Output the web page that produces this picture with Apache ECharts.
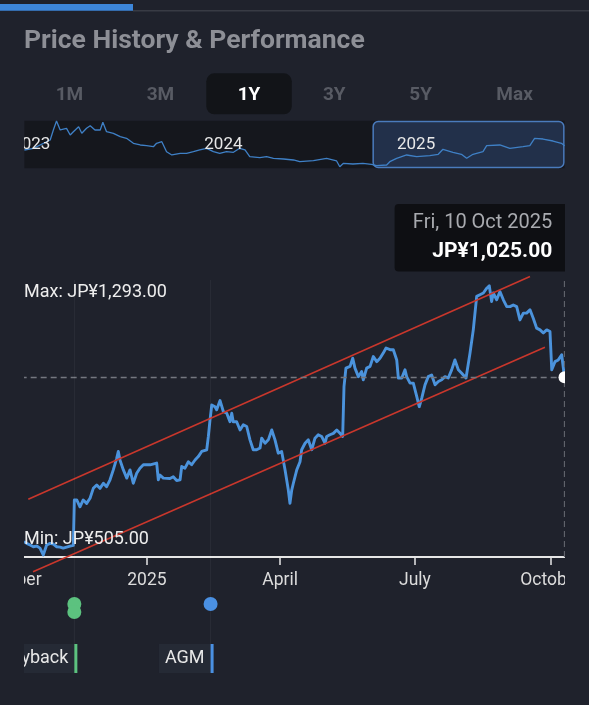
<!DOCTYPE html>
<html><head><meta charset="utf-8">
<script src="https://cdn.jsdelivr.net/npm/echarts@6/dist/echarts.min.js"></script>
<style>
html,body{margin:0;padding:0;background:#1f222c;}
#page{position:relative;width:589px;height:705px;overflow:hidden;background:#1f222c;}
#header{position:absolute;left:0;top:0;width:589px;height:705px;}
#clip{position:absolute;left:24px;top:0;width:541px;height:705px;overflow:hidden;}
#chart{position:absolute;left:-24px;top:0;width:620px;height:705px;}
</style></head>
<body><div id="page"><div id="header"></div><div id="clip"><div id="chart"></div></div></div>
<script>
// ---------------- data ----------------
const titleText = 'Price History & Performance';
const rangeButtons = ['1M', '3M', '1Y', '3Y', '5Y', 'Max'];
const selectedRange = '1Y';
const currency = 'JP¥';

// 1Y price history: days since 10 Oct 2024 and closing price (JPY)
const startDate = '2024-10-10';
const dayOffset = [0,1.8,4.1,6.3,8.6,10.8,13.0,15.3,17.6,19.8,22.1,24.3,26.5,28.8,31.1,33.3,34.0,35.6,37.8,40.0,
  42.3,44.6,46.8,49.1,51.3,53.6,55.8,58.1,60.3,62.6,63.7,64.8,67.1,69.4,71.6,73.8,76.1,78.3,80.6,85.1,
  89.6,90.7,91.8,94.1,98.6,100.8,103.1,105.4,106.5,108.7,111.0,113.2,115.5,117.7,120.0,123.4,124.5,125.6,126.8,129.0,
  130.1,132.4,134.6,136.9,139.1,140.3,141.3,143.6,145.9,148.1,150.4,152.6,154.8,157.1,159.4,160.5,162.8,165.0,167.3,169.5,
  171.7,174.0,176.3,178.5,179.6,180.8,181.9,184.2,186.4,187.5,189.8,192.0,194.3,196.5,198.7,201.0,203.3,204.4,206.6,208.9,
  211.2,213.4,215.2,216.1,217.4,220.2,222.0,223.5,225.8,228.0,229.1,231.4,233.7,235.9,238.2,240.4,242.6,244.5,247.2,249.4,
  251.7,252.8,255.1,257.3,258.4,260.7,262.9,265.2,266.9,268.6,270.8,273.0,275.3,277.6,279.8,282.1,284.3,286.5,288.8,291.0,
  293.3,295.6,298.5,301.2,303.4,305.7,307.9,310.2,312.5,314.2,315.8,316.9,319.2,321.4,323.7,326.0,328.2,330.4,332.7,334.9,
  337.2,339.4,341.7,343.9,346.2,348.5,350.7,353.0,355.2,356.4,358.6,360.8,363.1,365];
const price = [544,539,534,529,531,525,505,534,539,537,529,528,525,528,531,533,666,666,646,666,
  656,671,700,710,700,715,705,725,754,788,808,783,754,730,754,715,744,759,769,769,
  774,725,739,730,729,734,723,725,764,759,778,769,783,793,808,813,852,900,944,939,
  930,957,925,920,895,920,895,895,871,886,881,842,813,813,818,847,832,842,871,842,
  803,808,754,695,656,695,715,754,778,813,832,842,813,847,857,852,832,852,857,861,
  871,861,852,998,1052,1057,1081,1052,1027,1042,1018,1052,1057,1086,1071,1081,1096,1111,1106,1106,
  1076,1023,1023,1047,1027,1008,1008,969,939,964,1003,1027,1032,1003,1013,1018,1027,1023,1047,1076,
  1047,1037,1023,1096,1164,1262,1267,1272,1286,1293,1247,1272,1252,1276,1252,1232,1232,1237,1232,1193,
  1213,1213,1223,1198,1169,1164,1155,1164,1159,1047,1071,1076,1091,1025];

// trend channel (days since start, price)
const channelUpperDays = [2.9, 341.7];
const channelUpperPrice = [668, 1320];
const channelLowerDays = [6.1, 351.8];
const channelLowerPrice = [456, 1113];

// x axis ticks
const axisTickDates = ['2024-10-01', '2025-01-01', '2025-04-01', '2025-07-01', '2025-10-01'];
const axisTickLabels = ['October', '2025', 'April', 'July', 'October'];

// events (days since start)
const eventNames = ['Buyback', 'Buyback', 'AGM'];
const eventDays = [34, 34, 126];
const eventColorByName = { Buyback: '#5cc27f', AGM: '#4a90e2' };

// navigator: long history, days since 1 Jan 2023 and price
const navStartDate = '2023-01-01';
const navDayOffset = [-13,4,36,42,48,55,67,74,80,90,96,105,112,121,131,136,143,156,169,181,
  194,207,219,232,238,248,257,267,283,295,308,320,333,346,358,371,384,396,406,415,
  434,447,460,479,498,510,536,561,580,586,593,611,630,646,656,675,681,694,713,732,
  757,773,782,801,817,827,839,858,865,890,909,934,947,956,972,991,1007,1013];
const navPrice = [959,1007,1245,1531,1788,1531,1579,1388,1482,1625,1436,1579,1654,1531,1531,1751,1482,1436,1339,1293,
  1150,1102,1082,1053,1150,1196,910,816,864,864,910,959,1007,910,864,910,893,1007,959,767,
  738,767,721,701,673,624,653,721,644,481,578,558,578,550,510,530,624,721,816,767,
  796,836,979,893,836,721,836,910,1082,1102,1007,1053,1082,1293,1273,1216,1150,1082];
const navTickDates = ['2023-01-01', '2024-01-01', '2025-01-01'];
const navTickLabels = ['2023', '2024', '2025'];
const navSelectDays = [648, 1013];

// ---------------- helpers ----------------
const DAY = 86400000;
function parseD(s) { const p = s.split('-').map(Number); return new Date(p[0], p[1] - 1, p[2]).getTime(); }
const t0 = parseD(startDate);
const n0 = parseD(navStartDate);
const ts = d => t0 + d * DAY;
const nts = d => n0 + d * DAY;
function fmtPrice(v) { return currency + v.toLocaleString('en-US', { minimumFractionDigits: 2, maximumFractionDigits: 2 }); }
const FONT = 'Roboto, "Noto Sans", sans-serif';

const lineData = dayOffset.map((d, i) => [ts(d), price[i]]);
const lastTs = ts(dayOffset[dayOffset.length - 1]);
const lastPrice = price[price.length - 1];
const maxPrice = Math.max(...price), minPrice = Math.min(...price);
const tickTs = axisTickDates.map(parseD);
const navTickTs = navTickDates.map(parseD);
function labelFor(list, labels) {
  return v => { const i = list.findIndex(t => Math.abs(t - v) < DAY / 2); return i >= 0 ? labels[i] : ''; };
}
const evData = eventDays.map((d, i) => {
  let stack = 0;
  for (let j = 0; j < i; j++) if (eventNames[j] === eventNames[i] && Math.abs(eventDays[j] - d) < 3) stack++;
  return [ts(d), stack, i];
});
const lastDate = new Date(lastTs);
const WD = ['Sun', 'Mon', 'Tue', 'Wed', 'Thu', 'Fri', 'Sat'];
const MO = ['Jan', 'Feb', 'Mar', 'Apr', 'May', 'Jun', 'Jul', 'Aug', 'Sep', 'Oct', 'Nov', 'Dec'];
const dateText = WD[lastDate.getDay()] + ', ' + lastDate.getDate() + ' ' + MO[lastDate.getMonth()] + ' ' + lastDate.getFullYear();

// ---------------- header ----------------
const header = echarts.init(document.getElementById('header'), null, { renderer: 'canvas' });
const btnX = [69.4, 160.4, 249, 334.3, 420.7, 514.6];
const headerGraphics = [
  { type: 'rect', shape: { x: 0, y: 4, width: 133, height: 6.7 }, style: { fill: '#3d86d9' } },
  { type: 'rect', shape: { x: 133, y: 10, width: 456, height: 1.5 }, style: { fill: '#383b44' } },
  { type: 'text', x: 24, y: 41, style: { text: titleText, fill: '#8d8f96', font: 'bold 26.5px ' + FONT, verticalAlign: 'middle' } },
  { type: 'rect', shape: { x: 206.3, y: 73.3, width: 85.5, height: 41, r: 8 }, style: { fill: '#121418' } }
];
rangeButtons.forEach((b, i) => {
  headerGraphics.push({ type: 'text', x: btnX[i], y: 95.5, style: { text: b, align: 'center', verticalAlign: 'middle',
    fill: b === selectedRange ? '#ffffff' : '#585b64', font: 'bold 19px ' + FONT } });
});
header.setOption({ backgroundColor: 'transparent', graphic: headerGraphics });

// ---------------- chart ----------------
const chart = echarts.init(document.getElementById('chart'), null, { renderer: 'canvas' });
const W = 620;
const mainLeft = 10.67, mainRight = W - 564.5;
const axisColor = '#e6e6e6';

chart.setOption({
  backgroundColor: 'transparent',
  textStyle: { fontFamily: FONT },
  animation: false,
  grid: [
    { left: mainLeft, right: mainRight, top: 280, bottom: 148, outerBoundsMode: 'none', containLabel: false },
    { left: mainLeft, right: mainRight, top: 557, height: 120, outerBoundsMode: 'none', containLabel: false },
    { left: 24.4, right: W - 564.6, top: 120.7, height: 47.6, show: true, backgroundColor: '#15171d', borderWidth: 0, outerBoundsMode: 'none', containLabel: false }
  ],
  xAxis: [
    { type: 'value', gridIndex: 0, min: ts(-9), max: lastTs, scale: true,
      axisLine: { show: true, lineStyle: { color: axisColor, width: 2 } },
      axisTick: { show: true, length: 8, customValues: tickTs, lineStyle: { color: axisColor, width: 1.5 } },
      axisLabel: { show: true, customValues: tickTs, formatter: labelFor(tickTs, axisTickLabels),
        color: '#dcdcdc', fontSize: 17.5, margin: 15, fontFamily: FONT, hideOverlap: false },
      splitLine: { show: false } },
    { type: 'value', gridIndex: 1, min: ts(-9), max: lastTs, scale: true, show: false },
    { type: 'value', gridIndex: 2, min: nts(navDayOffset[0]), max: nts(navDayOffset[navDayOffset.length - 1]), scale: true, z: 10,
      axisLine: { show: false }, axisTick: { show: false }, splitLine: { show: false },
      axisLabel: { show: true, inside: true, customValues: navTickTs, formatter: labelFor(navTickTs, navTickLabels),
        color: '#e8e8e8', fontSize: 17, margin: 24, verticalAlign: 'middle', fontFamily: FONT, hideOverlap: false } }
  ],
  yAxis: [
    { type: 'value', gridIndex: 0, min: 499, max: 1310, show: false },
    { type: 'value', gridIndex: 1, min: 0, max: 1, show: false },
    { type: 'value', gridIndex: 2, min: 435, max: 1797, show: false }
  ],
  series: [
    { type: 'line', xAxisIndex: 0, yAxisIndex: 0, data: lineData, showSymbol: false, symbol: 'none', z: 3,
      lineStyle: { color: '#4b93dc', width: 2.9, join: 'round' },
      markLine: { silent: true, symbol: 'none', label: { show: false }, animation: false,
        data: [
          { yAxis: lastPrice, lineStyle: { type: [6, 4], color: '#74777f', width: 1.3 } },
          { xAxis: lastTs, lineStyle: { type: [6, 4], color: '#5f626a', width: 1.3 } }
        ].concat(evData.filter(e => e[1] === 0).map(e => ({ xAxis: e[0], lineStyle: { type: 'solid', color: 'rgba(255,255,255,0.045)', width: 1 } })))
      } },
    { type: 'line', xAxisIndex: 0, yAxisIndex: 0, clip: false, symbol: 'none', z: 4,
      data: channelUpperDays.map((d, i) => [ts(d), channelUpperPrice[i]]),
      lineStyle: { color: '#c9372c', width: 1.6 } },
    { type: 'line', xAxisIndex: 0, yAxisIndex: 0, clip: false, symbol: 'none', z: 4,
      data: channelLowerDays.map((d, i) => [ts(d), channelLowerPrice[i]]),
      lineStyle: { color: '#c9372c', width: 1.6 } },
    { type: 'scatter', xAxisIndex: 0, yAxisIndex: 0, data: [[lastTs, lastPrice]], symbolSize: 12, z: 6, clip: false,
      itemStyle: { color: '#ffffff', opacity: 1 } },
    { type: 'custom', xAxisIndex: 1, yAxisIndex: 1, data: evData, z: 5, clip: false,
      renderItem: function (params, api) {
        const x = api.coord([api.value(0), 0])[0];
        const cs = params.coordSys;
        const stack = api.value(1);
        const name = eventNames[api.value(2)];
        const color = eventColorByName[name];
        const children = [];
        if (stack === 0) {
          children.push({ type: 'line', shape: { x1: x, y1: cs.y, x2: x, y2: cs.y + 87 }, style: { stroke: 'rgba(255,255,255,0.05)', lineWidth: 1 } });
          children.push({ type: 'text', x: x + 3, y: cs.y + 87, style: { text: name, align: 'right', verticalAlign: 'top',
            fill: '#e8e8e8', fontSize: 18, fontFamily: FONT, lineHeight: 19, backgroundColor: '#252a35', padding: [5, 9, 5, 6] } });
          children.push({ type: 'rect', shape: { x: x, y: cs.y + 87, width: 3, height: 29 }, style: { fill: color } });
        }
        children.push({ type: 'circle', shape: { cx: x, cy: cs.y + 47 + stack * 8, r: 7 }, style: { fill: color } });
        return { type: 'group', children: children };
      } },
    { type: 'custom', xAxisIndex: 2, yAxisIndex: 2, data: [[nts(navSelectDays[0]), nts(navSelectDays[1])]], z: 1,
      renderItem: function (params, api) {
        const cs = params.coordSys;
        const a = api.coord([api.value(0), 0])[0];
        const b = api.coord([api.value(1), 0])[0];
        return { type: 'rect', shape: { x: a + 0.75, y: cs.y + 0.75, width: b - a - 1.5, height: cs.height - 1.5, r: 5 },
          style: { fill: '#22304a', stroke: '#4a7bbd', lineWidth: 1.5 } };
      } },
    { type: 'line', xAxisIndex: 2, yAxisIndex: 2, z: 3, symbol: 'none',
      data: navDayOffset.map((d, i) => [nts(d), navPrice[i]]),
      lineStyle: { color: '#3f80c6', width: 1.3 } }
  ],
  graphic: [
    { type: 'text', x: 24, y: 292.5, z: 20, style: { text: 'Max: ' + fmtPrice(maxPrice), fill: '#eeeeee', fontSize: 18, fontFamily: FONT, verticalAlign: 'middle' } },
    { type: 'text', x: 24, y: 539, z: 20, style: { text: 'Min: ' + fmtPrice(minPrice), fill: '#eeeeee', fontSize: 18, fontFamily: FONT, verticalAlign: 'middle' } },
    { type: 'rect', z: 20, shape: { x: 394.6, y: 204, width: 175, height: 67.5, r: 4 }, style: { fill: '#0e0f13' } },
    { type: 'text', x: 552.3, y: 223, z: 21, style: { text: dateText, align: 'right', verticalAlign: 'middle', fill: '#a8aaaf', fontSize: 20, fontFamily: FONT } },
    { type: 'text', x: 552.3, y: 251.7, z: 21, style: { text: fmtPrice(lastPrice), align: 'right', verticalAlign: 'middle', fill: '#ffffff', fontSize: 21, fontWeight: 'bold', fontFamily: FONT } }
  ]
});
</script></body></html>
